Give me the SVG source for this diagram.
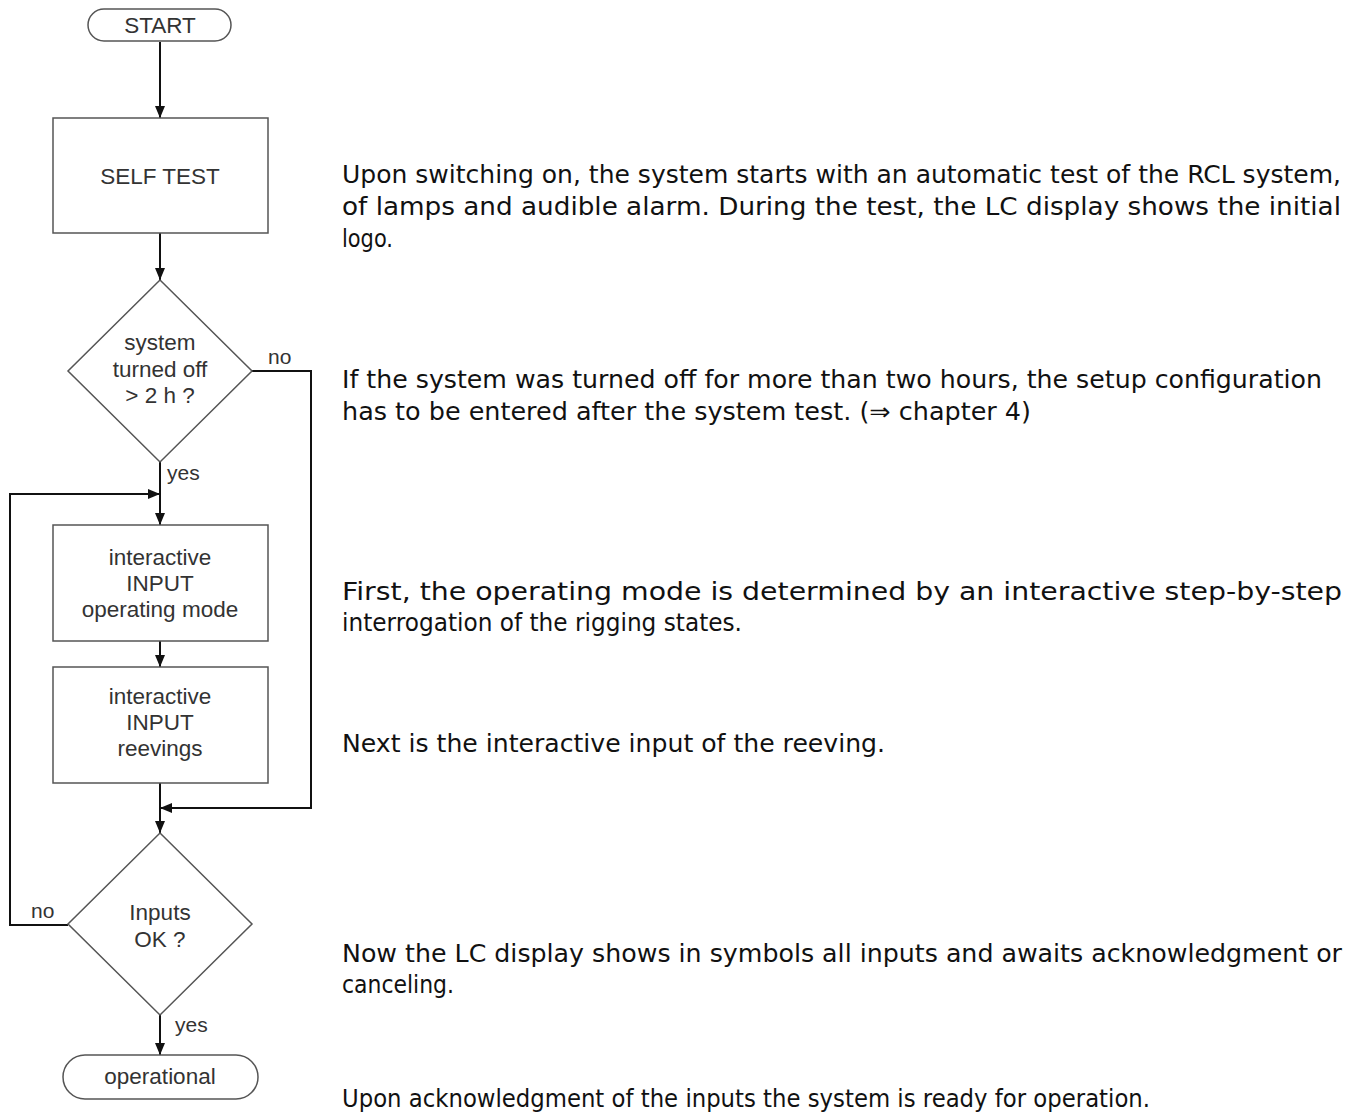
<svg xmlns="http://www.w3.org/2000/svg" width="1364" height="1117" viewBox="0 0 1364 1117">
<style>
.shape{fill:#fff;stroke:#555;stroke-width:1.5}
.conn{fill:none;stroke:#111;stroke-width:2}
.ft{font-family:"Liberation Sans",Arial,sans-serif;font-size:22.5px;fill:#333;text-anchor:middle}
.lbl{font-family:"Liberation Sans",Arial,sans-serif;font-size:21px;fill:#333}
.para{font-family:"DejaVu Sans","Liberation Sans",sans-serif;font-size:24px;fill:#111}
</style>
<defs>
<marker id="arr" markerUnits="userSpaceOnUse" markerWidth="12" markerHeight="10" refX="12" refY="5" orient="auto">
<path d="M0,0 L12,5 L0,10 z" fill="#111"/>
</marker>
</defs>
<g id="connectors">
<path class="conn" d="M160,42 V118" marker-end="url(#arr)"/>
<path class="conn" d="M160,233 V280" marker-end="url(#arr)"/>
<path class="conn" d="M160,462 V525" marker-end="url(#arr)"/>
<path class="conn" d="M160,641 V667" marker-end="url(#arr)"/>
<path class="conn" d="M160,783 V833" marker-end="url(#arr)"/>
<path class="conn" d="M160,1015 V1055" marker-end="url(#arr)"/>
<path class="conn" d="M252,371 H311 V808 H160" marker-end="url(#arr)"/>
<path class="conn" d="M68,925 H10 V494 H160" marker-end="url(#arr)"/>
<text class="lbl" x="268" y="364">no</text>
<text class="lbl" x="167" y="480">yes</text>
<text class="lbl" x="31" y="918">no</text>
<text class="lbl" x="175" y="1032">yes</text>
</g>
<g id="start">
<rect class="shape" x="88" y="9" width="143" height="32" rx="16"/>
<text class="ft" x="160" y="33">START</text>
</g>
<g id="selftest">
<rect class="shape" x="53" y="118" width="215" height="115"/>
<text class="ft" x="160" y="184">SELF TEST</text>
</g>
<g id="decision1">
<polygon class="shape" points="160,280 252,371 160,462 68,371"/>
<text class="ft" x="160" y="350">system</text>
<text class="ft" x="160" y="377">turned off</text>
<text class="ft" x="160" y="403">&gt; 2 h ?</text>
</g>
<g id="input-mode">
<rect class="shape" x="53" y="525" width="215" height="116"/>
<text class="ft" x="160" y="565">interactive</text>
<text class="ft" x="160" y="591">INPUT</text>
<text class="ft" x="160" y="617">operating mode</text>
</g>
<g id="input-reevings">
<rect class="shape" x="53" y="667" width="215" height="116"/>
<text class="ft" x="160" y="704">interactive</text>
<text class="ft" x="160" y="730">INPUT</text>
<text class="ft" x="160" y="756">reevings</text>
</g>
<g id="decision2">
<polygon class="shape" points="160,833 252,924 160,1015 68,924"/>
<text class="ft" x="160" y="920">Inputs</text>
<text class="ft" x="160" y="947">OK ?</text>
</g>
<g id="operational">
<rect class="shape" x="63" y="1055" width="195" height="44" rx="22"/>
<text class="ft" x="160" y="1084">operational</text>
</g>
<g id="descriptions">
<text class="para" x="342" y="183" textLength="999" lengthAdjust="spacingAndGlyphs">Upon switching on, the system starts with an automatic test of the RCL system,</text>
<text class="para" x="342" y="215" textLength="999" lengthAdjust="spacingAndGlyphs">of lamps and audible alarm. During the test, the LC display shows the initial</text>
<text class="para" x="342" y="247" textLength="51" lengthAdjust="spacingAndGlyphs">logo.</text>
<text class="para" x="342" y="388" textLength="980" lengthAdjust="spacingAndGlyphs">If the system was turned off for more than two hours, the setup configuration</text>
<text class="para" x="342" y="420" textLength="689" lengthAdjust="spacingAndGlyphs">has to be entered after the system test. (⇒ chapter 4)</text>
<text class="para" x="342" y="600" textLength="1000" lengthAdjust="spacingAndGlyphs">First, the operating mode is determined by an interactive step-by-step</text>
<text class="para" x="342" y="631" textLength="400" lengthAdjust="spacingAndGlyphs">interrogation of the rigging states.</text>
<text class="para" x="342" y="752" textLength="543" lengthAdjust="spacingAndGlyphs">Next is the interactive input of the reeving.</text>
<text class="para" x="342" y="962" textLength="1000" lengthAdjust="spacingAndGlyphs">Now the LC display shows in symbols all inputs and awaits acknowledgment or</text>
<text class="para" x="342" y="993" textLength="112" lengthAdjust="spacingAndGlyphs">canceling.</text>
<text class="para" x="342" y="1107" textLength="808" lengthAdjust="spacingAndGlyphs">Upon acknowledgment of the inputs the system is ready for operation.</text>
</g>
</svg>
